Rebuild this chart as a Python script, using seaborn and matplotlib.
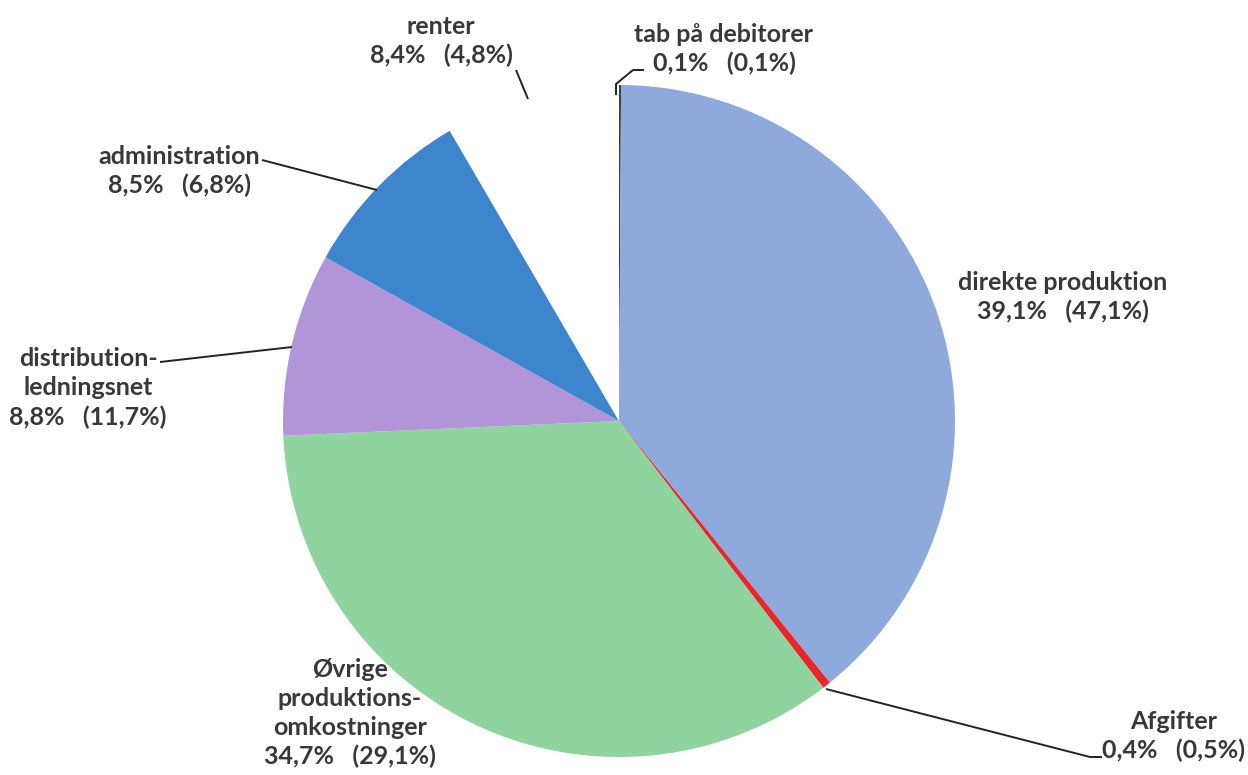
import matplotlib
matplotlib.use("Agg")
import matplotlib.pyplot as plt
import seaborn as sns

# slice data (clockwise from 12 o'clock)
categories = ["tab på debitorer", "direkte produktion", "Afgifter",
              "Øvrige produktionsomkostninger", "distribution-ledningsnet",
              "administration", "renter"]
shares = [0.1, 39.1, 0.4, 34.7, 8.8, 8.5, 8.4]
previous = [0.1, 47.1, 0.5, 29.1, 11.7, 6.8, 4.8]
label_names = ["tab på debitorer", "direkte produktion", "Afgifter",
               "Øvrige\nproduktions-\nomkostninger", "distribution-\nledningsnet",
               "administration", "renter"]
colors = ["#3a3f4a", "#8ea9db", "#e8262b", "#8fd49e", "#b295d8", "#3d85cc", "#ffffff"]

sns.set_theme(style="white")
plt.rcParams["font.family"] = ["Lato", "DejaVu Sans"]

W, H = 1248, 775
fig = plt.figure(figsize=(W / 100, H / 100), dpi=100)
ax = fig.add_axes([0, 0, 1, 1])
ax.axis("off")


def py(y):
    # pixel row from top -> data y
    return H - y


cx, cy, r = 619, 421, 336
ax.pie(shares, colors=colors, startangle=90, counterclock=False,
       center=(cx, py(cy)), radius=r, wedgeprops=dict(linewidth=0))
ax.set_xlim(0, W)
ax.set_ylim(0, H)
ax.set_aspect("equal")

# label positions (centre of text block) and leader lines in pixels
label_pos = [(724, 49), (1063, 297), (1174, 736), (350, 713), (88, 388), (179, 171), (441, 41)]
leaders = [
    [(644, 70), (633, 70), (616, 84), (616, 95)],
    None,
    [(826, 689), (1090, 757), (1102, 757)],
    None,
    [(160, 362), (292, 347)],
    [(262, 160), (377, 190)],
    [(516, 70), (528, 99)],
]

for name, s, p, (x, y), ld in zip(label_names, shares, previous, label_pos, leaders):
    txt = f"{name}\n{s:.1f}%   ({p:.1f}%)".replace(".", ",")
    ax.text(x, py(y), txt, ha="center", va="center", fontsize=18,
            fontweight="bold", color="#383838", linespacing=1.32)
    if ld:
        xs = [pt[0] for pt in ld]
        ys = [py(pt[1]) for pt in ld]
        ax.plot(xs, ys, color="#222222", lw=1.4, solid_capstyle="butt")

fig.savefig("out.png", dpi=100, facecolor="white")
